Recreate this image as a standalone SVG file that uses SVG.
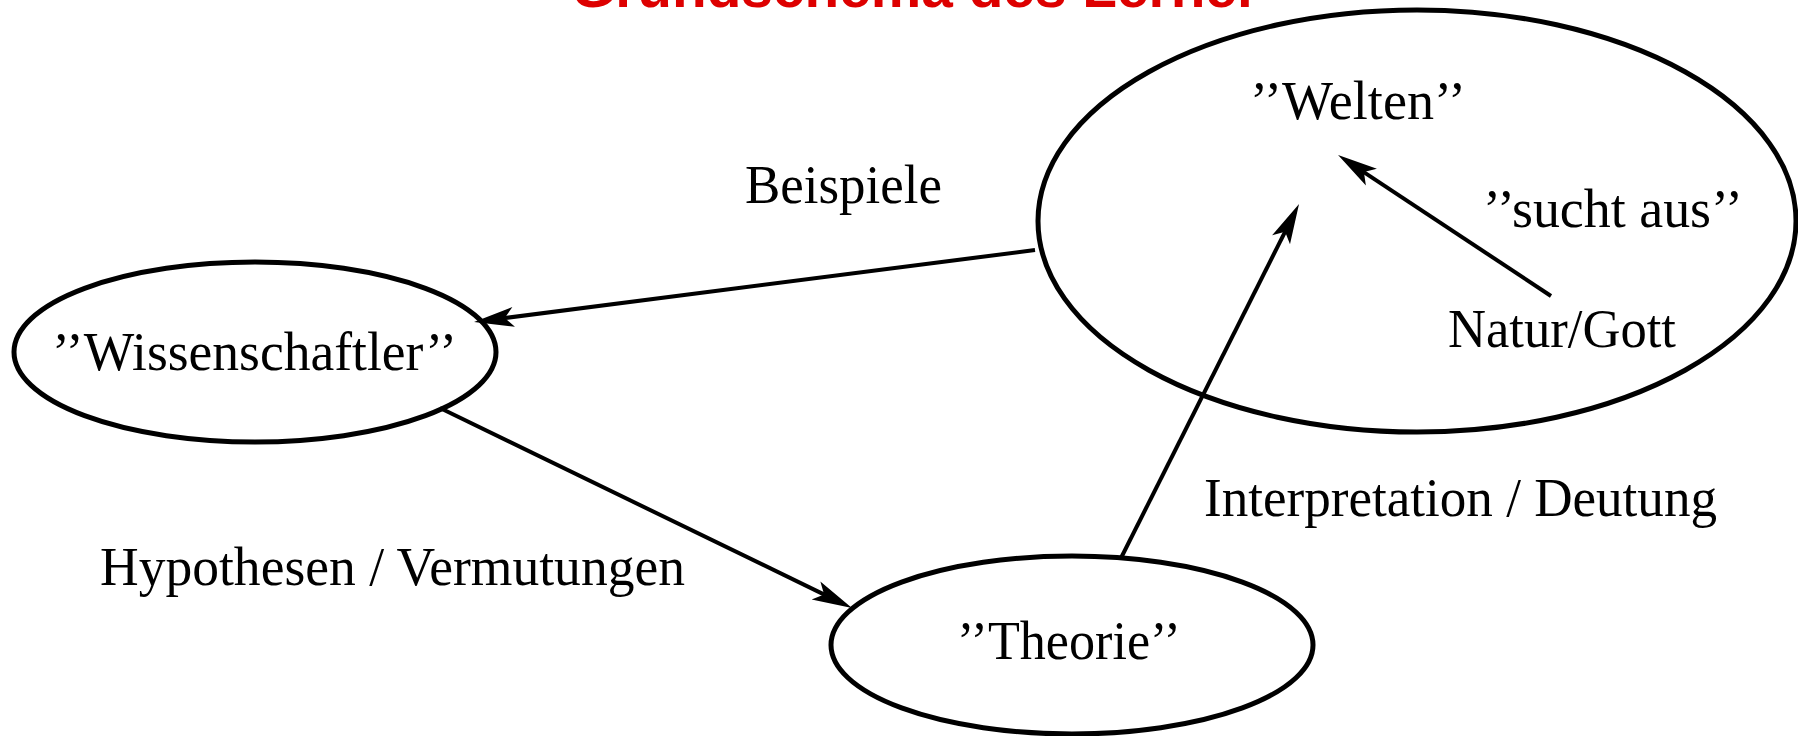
<svg xmlns="http://www.w3.org/2000/svg" width="1798" height="736" viewBox="0 0 1798 736">
<style>
.node{fill:none;stroke:#000;stroke-width:5}
.lbl{font-family:"Liberation Serif","Times New Roman",serif;font-size:54px;fill:#000}
.edge{stroke:#000;stroke-width:4;fill:none}
.title{font-family:"Liberation Sans",Arial,sans-serif;font-weight:bold;font-size:56px;fill:#dd0000}
</style>
<defs>
<marker id="ah" markerUnits="userSpaceOnUse" orient="auto" refX="0" refY="0" markerWidth="60" markerHeight="30" overflow="visible">
<path d="M25,0 L-15,-10 L-6,0 L-15,10 Z" fill="#000"/>
</marker>
</defs>
<rect width="1798" height="736" fill="#fff"/>
<text class="title" x="571" y="7" textLength="688" lengthAdjust="spacingAndGlyphs">Grundschema des Lerner</text>
<g id="welten">
<ellipse class="node" cx="1417" cy="221" rx="379" ry="211"/>
<text class="lbl" x="1250" y="119" textLength="216" lengthAdjust="spacingAndGlyphs">’’Welten’’</text>
</g>
<g id="natur">
<text class="lbl" x="1448" y="347" textLength="228" lengthAdjust="spacingAndGlyphs">Natur/Gott</text>
</g>
<g id="wissenschaftler">
<ellipse class="node" cx="255" cy="352" rx="241" ry="90"/>
<text class="lbl" x="52" y="370" textLength="405" lengthAdjust="spacingAndGlyphs">’’Wissenschaftler’’</text>
</g>
<g id="theorie">
<ellipse class="node" cx="1072" cy="645" rx="241" ry="89"/>
<text class="lbl" x="957" y="659" textLength="224" lengthAdjust="spacingAndGlyphs">’’Theorie’’</text>
</g>
<g id="connectors">
<line class="edge" x1="1035" y1="250" x2="498.8" y2="318.8" marker-end="url(#ah)"/>
<line class="edge" x1="440" y1="408" x2="829.5" y2="597.1" marker-end="url(#ah)"/>
<line class="edge" x1="1121" y1="558" x2="1287.8" y2="226.3" marker-end="url(#ah)"/>
<line class="edge" x1="1551" y1="296" x2="1358.9" y2="168.8" marker-end="url(#ah)"/>
<text class="lbl" x="745" y="203" textLength="197" lengthAdjust="spacingAndGlyphs">Beispiele</text>
<text class="lbl" x="1483" y="227" textLength="260" lengthAdjust="spacingAndGlyphs">’’sucht aus’’</text>
<text class="lbl" x="100" y="585" textLength="585" lengthAdjust="spacingAndGlyphs">Hypothesen / Vermutungen</text>
<text class="lbl" x="1204" y="516" textLength="513" lengthAdjust="spacingAndGlyphs">Interpretation / Deutung</text>
</g>
</svg>
